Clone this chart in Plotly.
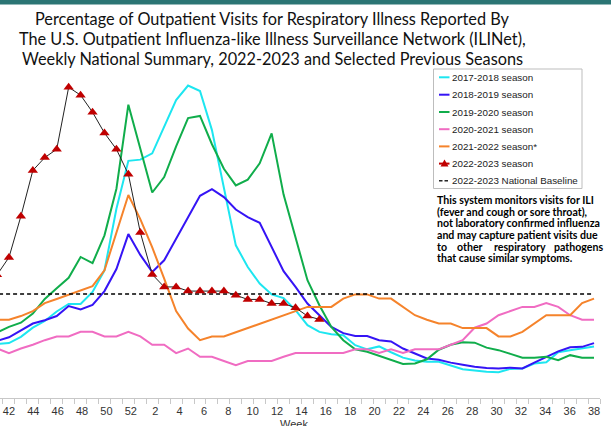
import plotly.graph_objects as go
import numpy as np

# ---------------- data ----------------
weeks = list(range(40, 53)) + list(range(1, 40))
x_idx = list(range(len(weeks)))

s2017_18 = [1.30, 1.30, 1.32, 1.47, 1.69, 1.85, 2.08, 2.26, 2.26, 2.55, 3.07, 4.55, 5.70,
            5.73, 5.88, 6.51, 7.16, 7.51, 7.38, 6.44, 5.07, 3.67, 3.15, 2.75, 2.49, 2.40,
            2.11, 1.75, 1.59, 1.53, 1.51, 1.27, 1.17, 1.24, 1.10, 0.97, 0.90, 0.87, 0.87,
            0.78, 0.69, 0.66, 0.63, 0.62, 0.70, 0.71, 0.83, 0.86, 1.10, 1.15, 1.19, 1.24]
s2018_19 = [1.30, 1.37, 1.46, 1.62, 1.79, 1.87, 1.97, 2.21, 2.13, 2.24, 2.57, 3.10, 3.94,
            3.44, 3.03, 3.31, 3.83, 4.35, 4.86, 5.02, 4.83, 4.53, 4.35, 4.21, 3.63, 3.05,
            2.67, 2.27, 1.99, 1.71, 1.56, 1.49, 1.49, 1.39, 1.36, 1.19, 1.07, 0.95, 0.92,
            0.85, 0.80, 0.75, 0.72, 0.71, 0.73, 0.71, 0.85, 0.98, 1.12, 1.22, 1.23, 1.32]
s2019_20 = [1.50, 1.57, 1.71, 1.81, 2.03, 2.38, 2.64, 2.89, 3.39, 3.24, 3.91, 5.03, 7.05,
            6.00, 4.94, 5.31, 6.05, 6.73, 6.78, 6.10, 5.51, 5.11, 5.25, 5.64, 6.36, 4.89,
            3.85, 2.83, 2.23, 1.71, 1.39, 1.17, 1.11, 1.01, 0.91, 0.82, 0.83, 0.93, 1.16,
            1.28, 1.34, 1.33, 1.21, 1.15, 1.06, 0.97, 0.97, 0.99, 0.91, 1.03, 0.97, 0.97]
s2020_21 = [1.20, 1.19, 1.08, 1.19, 1.28, 1.39, 1.48, 1.48, 1.59, 1.59, 1.48, 1.48, 1.59,
            1.48, 1.28, 1.28, 1.08, 1.19, 0.99, 0.99, 0.89, 0.79, 0.89, 0.89, 0.89, 0.99,
            1.08, 1.08, 1.08, 1.08, 1.08, 1.17, 1.17, 1.08, 1.17, 1.08, 1.17, 1.17, 1.17,
            1.28, 1.39, 1.69, 1.79, 1.99, 2.09, 2.19, 2.19, 2.28, 2.19, 1.99, 1.88, 1.88]
s2021_22 = [1.90, 1.88, 1.88, 1.97, 2.09, 2.28, 2.38, 2.48, 2.58, 2.69, 3.07, 3.95, 4.88,
            4.30, 3.62, 2.87, 2.09, 1.67, 1.39, 1.48, 1.48, 1.58, 1.68, 1.79, 1.89, 1.99,
            2.09, 2.19, 2.19, 2.19, 2.39, 2.49, 2.49, 2.39, 2.39, 2.19, 1.99, 1.88, 1.79,
            1.79, 1.68, 1.68, 1.68, 1.48, 1.48, 1.59, 1.79, 1.99, 1.99, 1.99, 2.28, 2.39]
s2022_23 = [2.80, 2.96, 3.38, 4.37, 5.47, 5.78, 5.98, 7.47, 7.28, 6.87, 6.37, 5.98, 5.38,
            3.98, 2.97, 2.67, 2.67, 2.57, 2.57, 2.57, 2.57, 2.47, 2.37, 2.37, 2.27, 2.27,
            2.17, 1.97, 1.89]
baseline_2022_23 = [2.5] * len(weeks)

tick_labels = ["42", "44", "46", "48", "50", "52", "2", "4", "6", "8", "10", "12", "14",
               "16", "18", "20", "22", "24", "26", "28", "30", "32", "34", "36", "38"]

season_names = ["2017-2018 season", "2018-2019 season", "2019-2020 season",
                "2020-2021 season", "2021-2022 season*"]
season_values = [s2017_18, s2018_19, s2019_20, s2020_21, s2021_22]
season_colors = ["#1DE6F0", "#3514F5", "#10AD4B", "#F06CC2", "#F5832B"]

title_lines = ["Percentage of Outpatient Visits for Respiratory Illness Reported By",
               "The U.S. Outpatient Influenza-like Illness Surveillance Network (ILINet),",
               "Weekly National Summary, 2022-2023 and Selected Previous Seasons"]

# ---------------- layout geometry ----------------
W, H = 611, 426
ML, MR, MT, MB = 0, 11, 60, 28
PW, PH = W - ML - MR, H - MT - MB


def fx(p):
    return (p - ML) / PW


def fy(p):
    return (H - MB - p) / PH


fig = go.Figure()
for name, vals, col in zip(season_names, season_values, season_colors):
    fig.add_trace(go.Scatter(x=x_idx[:len(vals)], y=vals, mode="lines", name=name,
                             line=dict(color=col, width=2), showlegend=False))

fig.add_trace(go.Scatter(x=x_idx, y=baseline_2022_23, mode="lines",
                         name="2022-2023 National Baseline",
                         line=dict(color="black", width=1.6, dash="4px,3px"),
                         showlegend=False))
fig.add_trace(go.Scatter(x=x_idx[:len(s2022_23)], y=s2022_23, mode="lines+markers",
                         name="2022-2023 season",
                         line=dict(color="#222222", width=1),
                         marker=dict(symbol="triangle-up", size=9, color="#C00000"),
                         showlegend=False))

tickvals = list(np.linspace(2, 51, len(tick_labels)))

fig.update_layout(
    width=W, height=H,
    margin=dict(l=ML, r=MR, t=MT, b=MB),
    paper_bgcolor="white", plot_bgcolor="white",
    xaxis=dict(range=[1.25, 51.5], tickmode="array", tickvals=tickvals, ticktext=tick_labels,
               ticks="", showgrid=False, zeroline=False, showline=True,
               linecolor="#C8C8C8", linewidth=1, ticklabelstandoff=3,
               tickfont=dict(family="Liberation Sans, Arial", size=11, color="#333333"),
               minor=dict(tickmode="array", tickvals=[i + 0.5 for i in range(1, 52)],
                          ticks="outside", ticklen=5, tickcolor="#C8C8C8", tickwidth=1,
                          showgrid=False),
               automargin=False),
    yaxis=dict(range=[0, 8.125], showgrid=False, zeroline=False, showline=False,
               showticklabels=False, ticks="", automargin=False),
)

shapes = []
annotations = []
# top teal bar
shapes.append(dict(type="rect", xref="paper", yref="paper", x0=fx(0), x1=fx(W), y0=fy(4.5), y1=fy(0),
                   fillcolor="#2B7574", line=dict(width=0), layer="above"))
# title
for line, yy in zip(title_lines, [18, 38.5, 58.5]):
    annotations.append(dict(text=line, xref="paper", yref="paper", x=fx(272), y=fy(yy),
                            xanchor="center", yanchor="middle", showarrow=False,
                            font=dict(family="Lato", size=16.3, color="#111111")))
# x axis title (partly cut at the bottom edge, as in the original)
annotations.append(dict(text="Week", xref="paper", yref="paper", x=fx(294), y=fy(424),
                        xanchor="center", yanchor="middle", showarrow=False,
                        font=dict(family="Liberation Sans, Arial", size=11, color="#333333")))
# legend box
shapes.append(dict(type="rect", xref="paper", yref="paper", x0=fx(433.5), x1=fx(582), y0=fy(188.5), y1=fy(69),
                   fillcolor="white", line=dict(color="#BDBDBD", width=1), layer="above"))
leg_y = [77.3, 94.7, 112, 129.2, 146.4, 163.6, 180.8]
leg_names = season_names + ["2022-2023 season", "2022-2023 National Baseline"]
leg_cols = season_colors + ["#C00000", "black"]
for i, (yy, nm, col) in enumerate(zip(leg_y, leg_names, leg_cols)):
    if i == 6:
        for a, b in [(439, 442.5), (444.5, 448)]:
            shapes.append(dict(type="line", xref="paper", yref="paper", x0=fx(a), x1=fx(b),
                               y0=fy(yy), y1=fy(yy), line=dict(color=col, width=1.3), layer="above"))
    else:
        shapes.append(dict(type="line", xref="paper", yref="paper", x0=fx(439), x1=fx(449.5),
                           y0=fy(yy), y1=fy(yy), line=dict(color=col, width=2), layer="above"))
    if i == 5:
        path = "M {:.5f},{:.5f} L {:.5f},{:.5f} L {:.5f},{:.5f} Z".format(
            fx(440.5), fy(yy + 3), fx(448.5), fy(yy + 3), fx(444.5), fy(yy - 4))
        shapes.append(dict(type="path", xref="paper", yref="paper", path=path,
                           fillcolor="#C00000", line=dict(width=0), layer="above"))
    annotations.append(dict(text=nm, xref="paper", yref="paper", x=fx(449.5), y=fy(yy),
                            xanchor="left", yanchor="middle", showarrow=False,
                            font=dict(family="Liberation Sans, Arial", size=9.8, color="#222222")))

# note text
note_lines = ["This system monitors visits for ILI",
              "(fever and cough or sore throat),",
              "not laboratory confirmed influenza",
              "and may capture patient visits due",
              None,
              "that cause similar symptoms."]
note_y = [200, 211.7, 223.3, 235, 246.7, 258.2]
nfont = dict(family="Lato", size=10.6, color="#000000")
for line, yy in zip(note_lines, note_y):
    if line is None:
        for word, xx, anc in [("to", 435, "left"), ("other", 455, "left"),
                              ("respiratory", 492, "left"), ("pathogens", 605, "right")]:
            annotations.append(dict(text="<b>" + word + "</b>", xref="paper", yref="paper",
                                    x=fx(xx), y=fy(yy), xanchor=anc, yanchor="middle",
                                    showarrow=False, font=nfont))
    else:
        annotations.append(dict(text="<b>" + line + "</b>", xref="paper", yref="paper",
                                x=fx(435), y=fy(yy), xanchor="left", yanchor="middle",
                                showarrow=False, font=nfont))

fig.update_layout(shapes=shapes, annotations=annotations)
fig.write_html("out.html", config={"displayModeBar": False},
               post_script="document.body.style.margin='0px';document.body.style.padding='0px';")
